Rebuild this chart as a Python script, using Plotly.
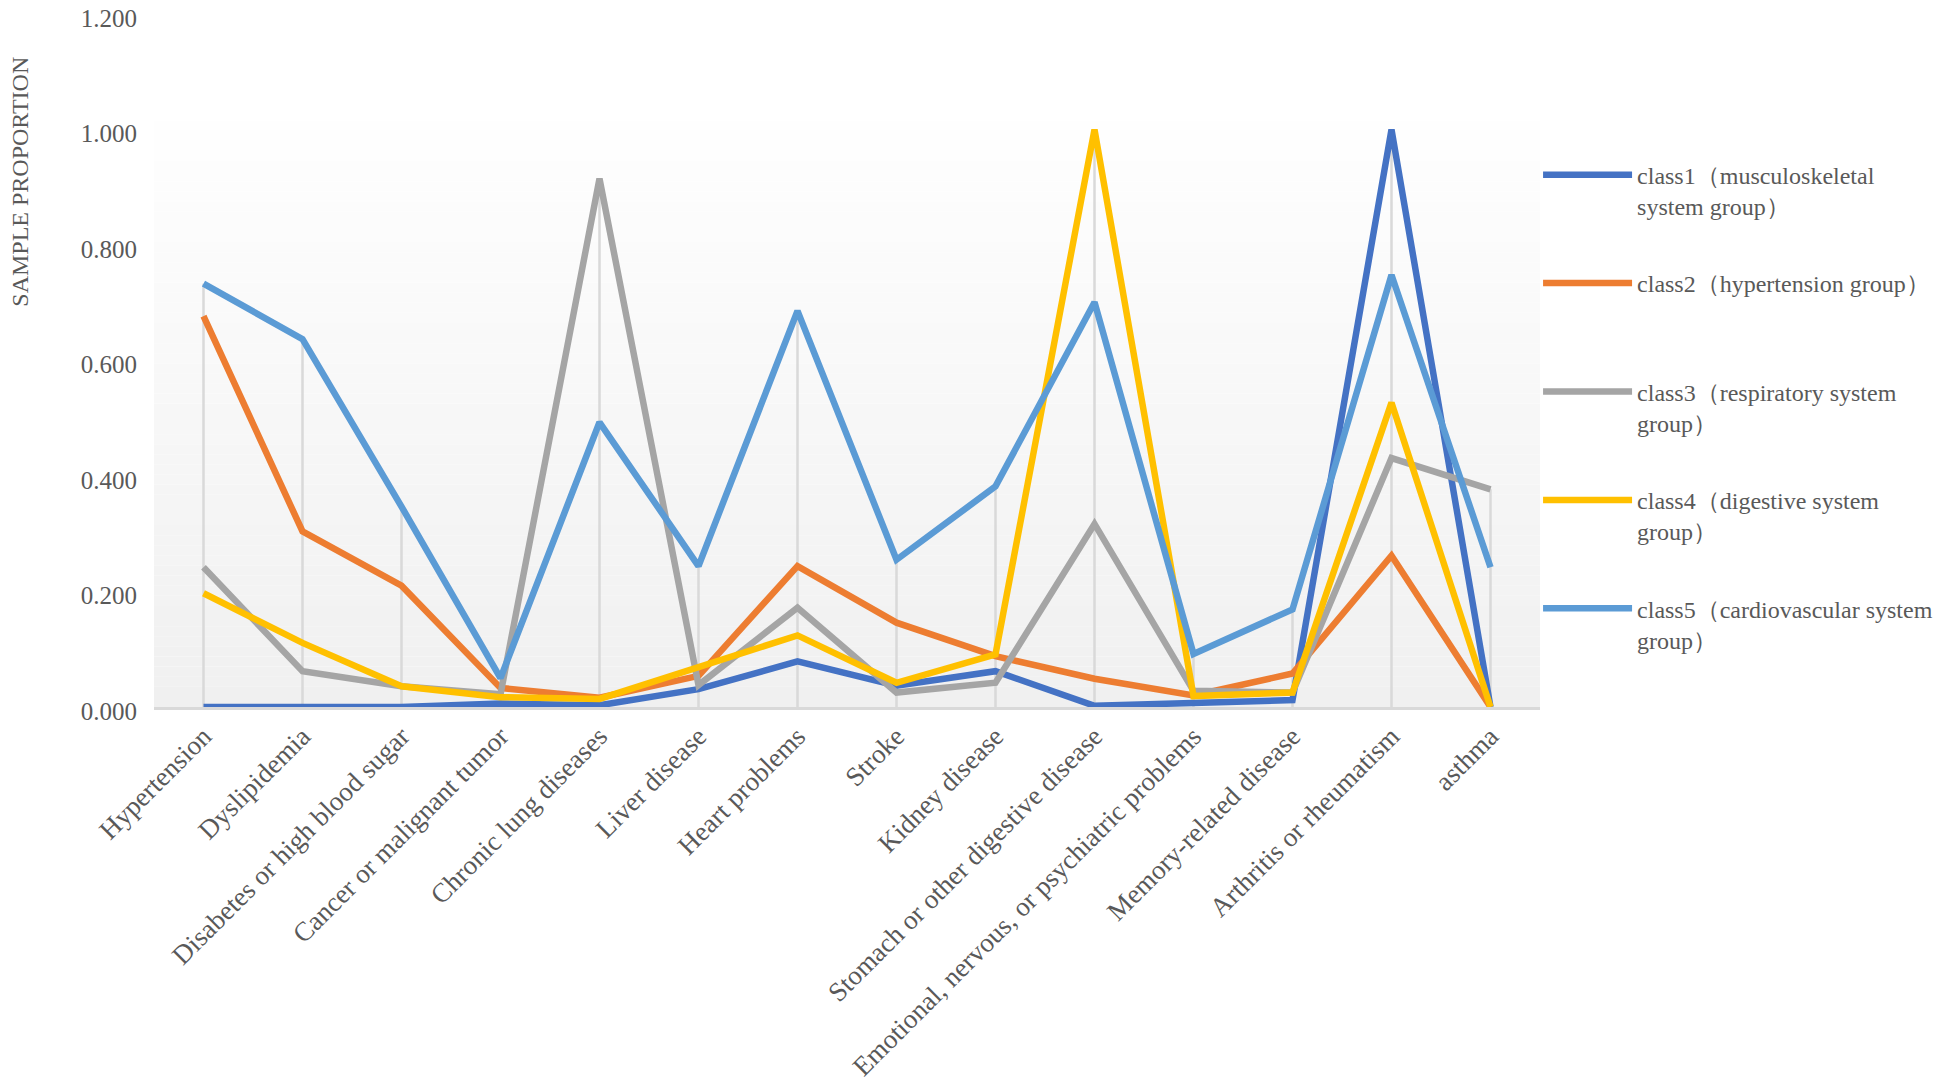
import plotly.graph_objects as go

### Data ###
categories = ["Hypertension", "Dyslipidemia", "Disabetes or high blood sugar",
              "Cancer or malignant tumor", "Chronic lung diseases", "Liver disease",
              "Heart problems", "Stroke", "Kidney disease",
              "Stomach or other digestive disease",
              "Emotional, nervous, or psychiatric problems",
              "Memory-related disease", "Arthritis or rheumatism", "asthma"]

class1 = [0.000, 0.000, 0.000, 0.006, 0.003, 0.031, 0.079, 0.037, 0.062, 0.002, 0.007, 0.012, 1.000, 0.000]
class2 = [0.677, 0.304, 0.210, 0.033, 0.016, 0.054, 0.244, 0.146, 0.088, 0.049, 0.020, 0.058, 0.262, 0.000]
class3 = [0.242, 0.062, 0.036, 0.022, 0.915, 0.038, 0.172, 0.025, 0.042, 0.317, 0.028, 0.025, 0.431, 0.377]
class4 = [0.197, 0.111, 0.036, 0.017, 0.014, 0.068, 0.124, 0.042, 0.091, 1.000, 0.019, 0.025, 0.527, 0.000]
class5 = [0.733, 0.637, 0.347, 0.050, 0.493, 0.244, 0.686, 0.255, 0.382, 0.701, 0.092, 0.169, 0.748, 0.242]

series_names = ["class1（musculoskeletal<br>system group）",
                "class2（hypertension group）<br> ",
                "class3（respiratory system<br>group）",
                "class4（digestive system<br>group）",
                "class5（cardiovascular system<br>group）"]
series_values = [class1, class2, class3, class4, class5]
series_colors = ["#4472C4", "#ED7D31", "#A5A5A5", "#FFC000", "#5B9BD5"]

y_ticks = [0.0, 0.2, 0.4, 0.6, 0.8, 1.0, 1.2]

FONT = "Liberation Serif"
GREY = "#595959"

fig = go.Figure()

# drop lines from the highest point of each category down to the axis
drop_x, drop_y = [], []
for i, cat in enumerate(categories):
    top = max(v[i] for v in series_values)
    drop_x += [cat, cat, None]
    drop_y += [0, top, None]
fig.add_trace(go.Scatter(x=drop_x, y=drop_y, mode="lines",
                         line=dict(color="#d9d9d9", width=2.5),
                         showlegend=False, hoverinfo="skip"))

for name, vals, col in zip(series_names, series_values, series_colors):
    fig.add_trace(go.Scatter(x=categories, y=vals, mode="lines", name=name,
                             legendgroup=name,
                             line=dict(color=col, width=6.5)))

# plot area gradient (white at top -> light grey at bottom)
n_bands = 60
top_frac = 0.875
for i in range(n_bands):
    t = i / (n_bands - 1)
    c = int(round(240 + (255 - 240) * t))
    fig.add_shape(type="rect", xref="paper", yref="paper",
                  x0=0, x1=1, y0=top_frac * i / n_bands, y1=top_frac * (i + 1) / n_bands,
                  fillcolor="rgb({0},{0},{0})".format(c), line=dict(width=0), layer="below")

fig.add_annotation(text="SAMPLE PROPORTION", xref="paper", yref="paper",
                   x=-0.0967, y=0.758, xanchor="center", yanchor="middle",
                   textangle=-90, showarrow=False,
                   font=dict(family=FONT, size=24, color=GREY))

fig.update_layout(
    width=1936, height=1075,
    margin=dict(l=146, r=404, t=6, b=376, autoexpand=False),
    paper_bgcolor="white", plot_bgcolor="rgba(0,0,0,0)",
    font=dict(family=FONT, color=GREY),
    legend=dict(x=0.9986, y=0.80, xanchor="left", yanchor="top",
                font=dict(family=FONT, size=24, color=GREY),
                valign="top", tracegroupgap=43, itemwidth=89,
                bgcolor="rgba(0,0,0,0)"),
)
fig.update_xaxes(type="category", range=[-0.5, len(categories) - 0.5],
                 showline=True, linecolor="#d9d9d9", linewidth=2.5,
                 showgrid=False, zeroline=False, ticks="", tickangle=-45,
                 tickfont=dict(family=FONT, size=27, color=GREY), automargin=False)
fig.update_yaxes(range=[0, 1.2], tickvals=y_ticks, tickformat=".3f",
                 showgrid=False, zeroline=False, showline=False, ticks="",
                 ticklabelstandoff=16, ticklabelshift=4, ticklabeloverflow="allow",
                 tickfont=dict(family=FONT, size=25, color=GREY), automargin=False)

fig.write_html("out.html")
